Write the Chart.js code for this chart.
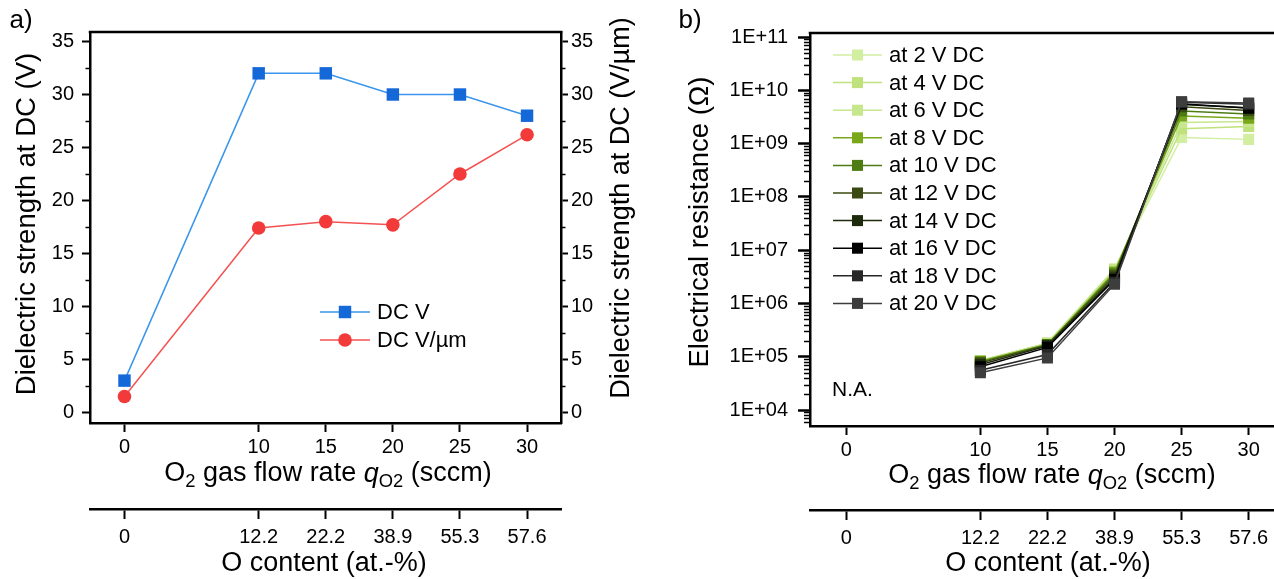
<!DOCTYPE html>
<html><head><meta charset="utf-8">
<script src="https://cdn.jsdelivr.net/npm/chart.js@4.4.1/dist/chart.umd.min.js"></script>
<style>
html,body{margin:0;padding:0;background:#fff;overflow:hidden;width:1274px;height:579px;position:relative}
#wrapA{position:absolute;left:0;top:0;width:640px;height:579px}
#wrapB{position:absolute;left:640px;top:0;width:650px;height:579px}
canvas{display:block}
</style></head><body>
<div id="wrapA"><canvas id="cA" width="640" height="579"></canvas></div>
<div id="wrapB"><canvas id="cB" width="650" height="579"></canvas></div>
<script>
// ---------- data ----------
const flowRate = [0, 10, 15, 20, 25, 30];
const oContent = ['0', '12.2', '22.2', '38.9', '55.3', '57.6'];
const dcV = [3, 32, 32, 30, 30, 28];
const dcVum = [1.5, 17.4, 18.0, 17.7, 22.5, 26.2];
const strengthTicks = [0, 5, 10, 15, 20, 25, 30, 35];
const strengthMinorTicks = [2.5, 7.5, 12.5, 17.5, 22.5, 27.5, 32.5];
const resTicks = [1e4, 1e5, 1e6, 1e7, 1e8, 1e9, 1e10, 1e11];
const voltLabels = ['at 2 V DC', 'at 4 V DC', 'at 6 V DC', 'at 8 V DC', 'at 10 V DC',
                    'at 12 V DC', 'at 14 V DC', 'at 16 V DC', 'at 18 V DC', 'at 20 V DC'];
const res2V  = [null, 8.5e4, 1.8e5, 4.5e6, 1.3e9, 1.2e9];
const res4V  = [null, 8.5e4, 1.8e5, 4.3e6, 1.9e9, 2.1e9];
const res6V  = [null, 8.3e4, 1.75e5, 4.1e6, 2.5e9, 2.6e9];
const res8V  = [null, 8.2e4, 1.7e5, 3.9e6, 3.3e9, 3.0e9];
const res10V = [null, 8.0e4, 1.7e5, 3.6e6, 4.1e9, 3.6e9];
const res12V = [null, 7.6e4, 1.65e5, 3.3e6, 4.9e9, 4.2e9];
const res14V = [null, 7.1e4, 1.6e5, 3.0e6, 5.4e9, 4.7e9];
const res16V = [null, 6.5e4, 1.5e5, 2.8e6, 5.6e9, 4.6e9];
const res18V = [null, 5.6e4, 1.1e5, 2.5e6, 6.0e9, 5.5e9];
const res20V = [null, 5.0e4, 9.5e4, 2.3e6, 6.1e9, 5.8e9];
const resSeries = [res2V, res4V, res6V, res8V, res10V, res12V, res14V, res16V, res18V, res20V];
const voltColors = ['#d2eea0', '#bfe27c', '#c6e78d', '#79a71a', '#4d7d12',
                    '#3b4a12', '#1d2a0b', '#000000', '#272727', '#3d3d3d'];

// ---------- helpers ----------
const FAM = '"Liberation Sans", Arial, Helvetica, sans-serif';
Chart.defaults.font.family = FAM;
Chart.defaults.color = '#000';

function drawRich(ctx, segs, x, y, size, rot) {
  ctx.save();
  ctx.translate(x, y);
  ctx.rotate(rot || 0);
  let total = 0;
  const parts = segs.map(s => {
    const fs = s.sub ? size * 0.68 : size;
    const font = (s.it ? 'italic ' : '') + fs + 'px ' + FAM;
    ctx.font = font;
    const w = ctx.measureText(s.t).width;
    total += w;
    return {t: s.t, font, w, dy: s.sub ? size * 0.3 : 0};
  });
  let cx = -total / 2;
  ctx.textBaseline = 'middle';
  ctx.textAlign = 'left';
  ctx.fillStyle = '#000';
  parts.forEach(p => { ctx.font = p.font; ctx.fillText(p.t, cx, p.dy); cx += p.w; });
  ctx.restore();
}

const decor = {
  id: 'decor',
  afterDraw(chart, args, o) {
    const ctx = chart.ctx, ca = chart.chartArea;
    ctx.save();
    // top frame line
    ctx.strokeStyle = '#000';
    ctx.lineWidth = 2.5;
    ctx.beginPath();
    ctx.moveTo(ca.left - 1.25, ca.top);
    ctx.lineTo(o.frameRight != null ? o.frameRight : ca.right + 1.25, ca.top);
    ctx.stroke();
    // minor ticks
    ctx.lineWidth = 1.5;
    (o.minor || []).forEach(m => {
      const s = chart.scales[m.axis];
      m.values.forEach(v => {
        if (v < s.min || v > s.max) return;
        const p = Math.round(s.getPixelForValue(v)) + 0.5;
        ctx.beginPath();
        if (m.side === 'left') { ctx.moveTo(s.right, p); ctx.lineTo(s.right - m.len, p); }
        else { ctx.moveTo(s.left, p); ctx.lineTo(s.left + m.len, p); }
        ctx.stroke();
      });
    });
    // legend
    if (o.legend) {
      const L = o.legend;
      chart.data.datasets.forEach((ds, i) => {
        const y = L.y0 + i * L.dy;
        ctx.strokeStyle = ds.borderColor;
        ctx.lineWidth = ds.borderWidth;
        ctx.beginPath(); ctx.moveTo(L.x0, y); ctx.lineTo(L.x1, y); ctx.stroke();
        ctx.fillStyle = ds.pointBackgroundColor;
        ctx.strokeStyle = ds.pointBorderColor;
        Chart.helpers.drawPoint(ctx, {pointStyle: ds.pointStyle, radius: ds.pointRadius, rotation: 0, borderWidth: 0},
          (L.x0 + L.x1) / 2, y);
        ctx.fillStyle = '#000';
        ctx.font = L.size + 'px ' + FAM;
        ctx.textAlign = 'left';
        ctx.textBaseline = 'middle';
        ctx.fillText(ds.label, L.tx, y + 1);
      });
    }
    // texts
    (o.texts || []).forEach(t => drawRich(ctx, t.segs, t.x, t.y, t.size, t.rot));
    (o.plain || []).forEach(t => {
      ctx.fillStyle = '#000';
      ctx.font = t.size + 'px ' + FAM;
      ctx.textAlign = 'left';
      ctx.textBaseline = 'middle';
      ctx.fillText(t.text, t.x, t.y);
    });
    ctx.restore();
  }
};

function xAxes(xmin, xmax, h1, h2) {
  const tickFont = {size: 20, family: FAM};
  return {
    x: {
      type: 'linear', position: 'bottom', min: xmin, max: xmax, weight: 0,
      afterBuildTicks: s => { s.ticks = flowRate.map(v => ({value: v})); },
      afterFit: s => { s.height = h1; },
      ticks: {font: tickFont, color: '#000', padding: 3, autoSkip: false, maxRotation: 0, minRotation: 0},
      grid: {drawOnChartArea: false, drawTicks: true, tickLength: 9, tickWidth: 2, tickColor: '#000', color: '#000'},
      border: {display: true, color: '#000', width: 2.5}
    },
    x2: {
      type: 'linear', position: 'bottom', min: xmin, max: xmax, weight: 1,
      afterBuildTicks: s => { s.ticks = flowRate.map(v => ({value: v})); },
      afterFit: s => { s.height = h2; },
      ticks: {font: tickFont, color: '#000', padding: 6, autoSkip: false, maxRotation: 0, minRotation: 0,
              callback: v => oContent[flowRate.indexOf(v)]},
      grid: {drawOnChartArea: false, drawTicks: true, tickLength: 10, tickWidth: 2, tickColor: '#000', color: '#000'},
      border: {display: true, color: '#000', width: 2.5}
    }
  };
}

const xTitleSegs = [{t: 'O'}, {t: '2', sub: true}, {t: ' gas flow rate '}, {t: 'q', it: true}, {t: 'O2', sub: true}, {t: ' (sccm)'}];
const oTitleSegs = [{t: 'O content (at.-%)'}];

// ---------- panel a ----------
const ax = xAxes(-2.57, 32.53, 86, 70);
new Chart(document.getElementById('cA'), {
  type: 'line',
  data: {
    datasets: [
      {label: 'DC V', data: flowRate.map((x, i) => ({x, y: dcV[i]})), yAxisID: 'y', xAxisID: 'x',
       borderColor: '#3a95ec', backgroundColor: '#1468d8', pointBackgroundColor: '#1468d8', pointBorderColor: '#1468d8',
       pointStyle: 'rect', pointRadius: 8.8, pointBorderWidth: 0, borderWidth: 1.5, tension: 0},
      {label: 'DC V/µm', data: flowRate.map((x, i) => ({x, y: dcVum[i]})), yAxisID: 'y2', xAxisID: 'x',
       borderColor: '#f45252', backgroundColor: '#f23a3a', pointBackgroundColor: '#f23a3a', pointBorderColor: '#f23a3a',
       pointStyle: 'circle', pointRadius: 6.8, pointBorderWidth: 0, borderWidth: 1.5, tension: 0}
    ]
  },
  options: {
    responsive: false, animation: false, events: [],
    layout: {padding: {top: 32, left: 0, right: 0, bottom: 0}},
    plugins: {
      legend: {display: false}, tooltip: {enabled: false},
      decor: {
        minor: [{axis: 'y', side: 'left', len: 4.5, values: strengthMinorTicks},
                {axis: 'y2', side: 'right', len: 4.5, values: strengthMinorTicks}],
        legend: {x0: 320, x1: 370, tx: 377, y0: 312, dy: 28, size: 22},
        texts: [
          {segs: [{t: 'a)'}], x: 21, y: 21, size: 26},
          {segs: [{t: 'Dielectric strength at DC (V)'}], x: 27, y: 224, size: 27.5, rot: -Math.PI / 2},
          {segs: [{t: 'Dielectric strength at DC (V/µm)'}], x: 622, y: 208, size: 27, rot: -Math.PI / 2},
          {segs: xTitleSegs, x: 328, y: 474, size: 27},
          {segs: oTitleSegs, x: 324, y: 564, size: 27}
        ]
      }
    },
    scales: {
      x: ax.x, x2: ax.x2,
      y: {
        type: 'linear', position: 'left', min: -1.0, max: 35.9,
        afterBuildTicks: s => { s.ticks = strengthTicks.map(v => ({value: v})); },
        afterFit: s => { s.width = 90; },
        ticks: {font: {size: 20, family: FAM}, color: '#000', padding: 8},
        grid: {drawOnChartArea: false, tickLength: 8, tickWidth: 2, tickColor: '#000'},
        border: {display: true, color: '#000', width: 2.5}
      },
      y2: {
        type: 'linear', position: 'right', min: -1.0, max: 35.9,
        afterBuildTicks: s => { s.ticks = strengthTicks.map(v => ({value: v})); },
        afterFit: s => { s.width = 79; },
        ticks: {font: {size: 20, family: FAM}, color: '#000', padding: 3},
        grid: {drawOnChartArea: false, tickLength: 7, tickWidth: 2, tickColor: '#000'},
        border: {display: true, color: '#000', width: 2.5}
      }
    }
  },
  plugins: [decor]
});

// ---------- panel b ----------
const logMinor = [];
for (let d = 3; d <= 11; d++) for (let k = 2; k <= 9; k++) logMinor.push(k * Math.pow(10, d));
const bx = xAxes(-2.7, 32.5, 84, 69);
new Chart(document.getElementById('cB'), {
  type: 'line',
  data: {
    datasets: resSeries.map((arr, i) => ({
      label: voltLabels[i],
      data: flowRate.map((x, j) => ({x, y: arr[j]})),
      borderColor: voltColors[i], backgroundColor: voltColors[i],
      pointBackgroundColor: voltColors[i], pointBorderColor: voltColors[i],
      pointStyle: 'rect', pointRadius: 7.8, pointBorderWidth: 0, borderWidth: 1.5,
      tension: 0, order: -i
    }))
  },
  options: {
    responsive: false, animation: false, events: [],
    layout: {padding: {top: 33, left: 0, right: 6, bottom: 0}},
    plugins: {
      legend: {display: false}, tooltip: {enabled: false},
      decor: {
        frameRight: 650,
        minor: [{axis: 'y', side: 'left', len: 6, values: logMinor}],
        legend: {x0: 193, x1: 242, tx: 249, y0: 55, dy: 27.6, size: 22},
        texts: [
          {segs: [{t: 'b)'}], x: 50, y: 21, size: 26},
          {segs: [{t: 'Electrical resistance (Ω)'}], x: 60, y: 222, size: 27.5, rot: -Math.PI / 2},
          {segs: xTitleSegs, x: 412, y: 476, size: 27},
          {segs: oTitleSegs, x: 408, y: 564, size: 27}
        ],
        plain: [{text: 'N.A.', x: 192, y: 390, size: 21}]
      }
    },
    scales: {
      x: bx.x, x2: bx.x2,
      y: {
        type: 'logarithmic', position: 'left', min: 5012, max: 1.19e11,
        afterBuildTicks: s => { s.ticks = resTicks.map(v => ({value: v})); },
        afterFit: s => { s.width = 170; },
        ticks: {font: {size: 20, family: FAM}, color: '#000', padding: 10,
                callback: v => '1E+' + String(Math.round(Math.log10(v))).padStart(2, '0')},
        grid: {drawOnChartArea: false, tickLength: 12, tickWidth: 2.5, tickColor: '#000'},
        border: {display: true, color: '#000', width: 2.5}
      }
    }
  },
  plugins: [decor]
});
</script>
</body></html>
